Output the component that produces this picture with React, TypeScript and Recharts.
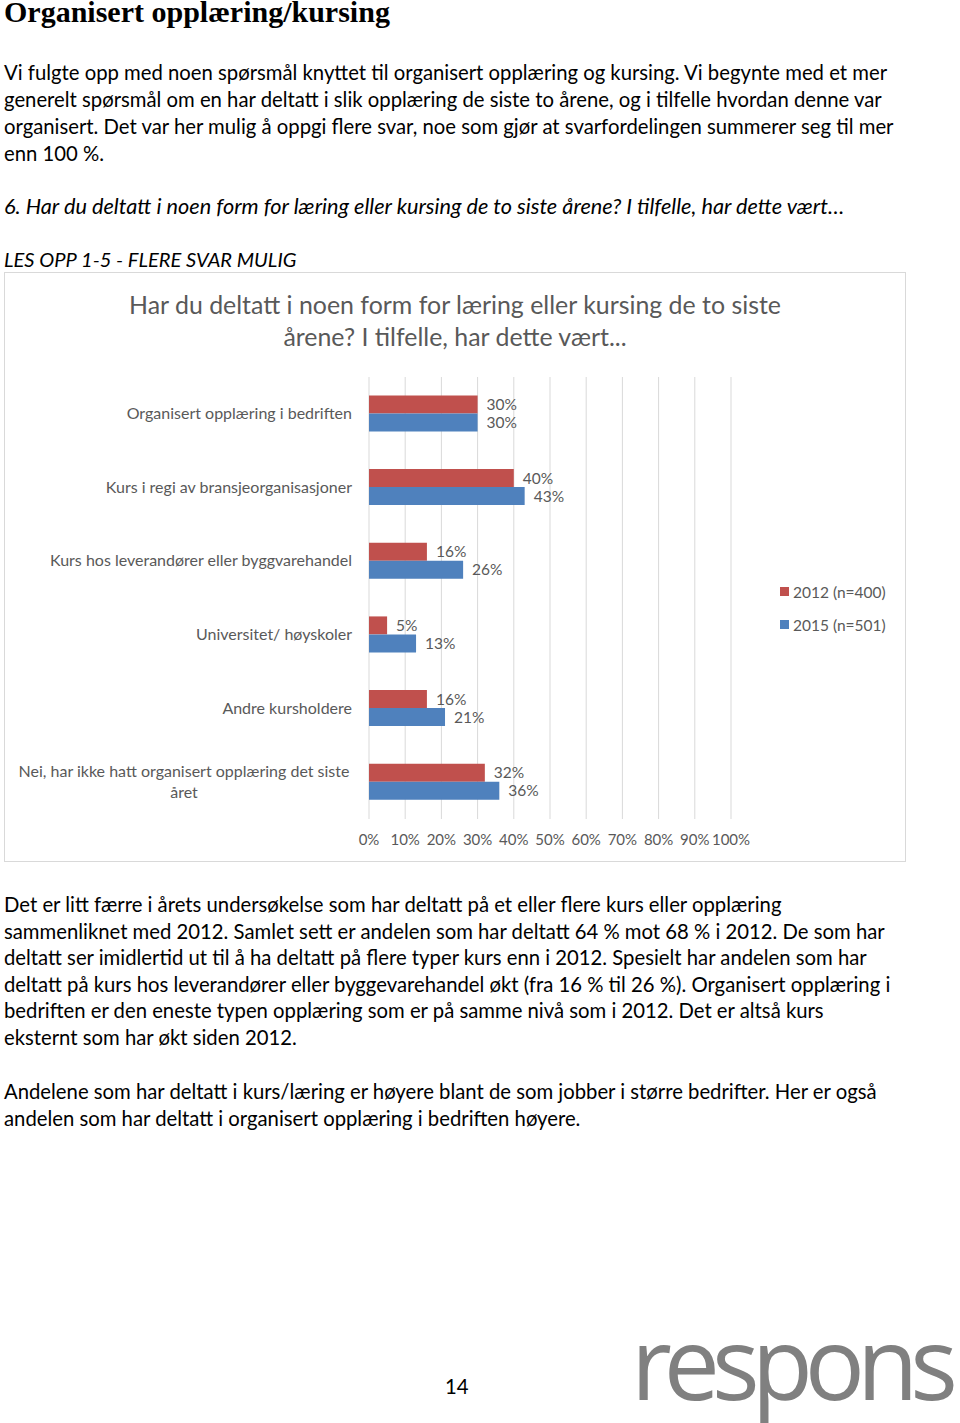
import { Bar, BarChart, CartesianGrid, LabelList, XAxis, YAxis } from "recharts";

const categories = [
  "Organisert opplæring i bedriften",
  "Kurs i regi av bransjeorganisasjoner",
  "Kurs hos leverandører eller byggvarehandel",
  "Universitet/ høyskoler",
  "Andre kursholdere",
  "Nei, har ikke hatt organisert opplæring det siste|året"
];
const values2012 = [30, 40, 16, 5, 16, 32];
const values2015 = [30, 43, 26, 13, 21, 36];
const xTicks = [0, 10, 20, 30, 40, 50, 60, 70, 80, 90, 100];
const seriesNames = ["2012 (n=400)", "2015 (n=501)"];
const seriesColors = ["#c0504d", "#4f81bd"];

const introLines = [
  "Vi fulgte opp med noen spørsmål knyttet til organisert opplæring og kursing. Vi begynte med et mer",
  "generelt spørsmål om en har deltatt i slik opplæring de siste to årene, og i tilfelle hvordan denne var",
  "organisert. Det var her mulig å oppgi flere svar, noe som gjør at svarfordelingen summerer seg til mer",
  "enn 100 %."
];
const outroLines = [
  "Det er litt færre i årets undersøkelse som har deltatt på et eller flere kurs eller opplæring",
  "sammenliknet med 2012. Samlet sett er andelen som har deltatt 64 % mot 68 % i 2012. De som har",
  "deltatt ser imidlertid ut til å ha deltatt på flere typer kurs enn i 2012. Spesielt har andelen som har",
  "deltatt på kurs hos leverandører eller byggevarehandel økt (fra 16 % til 26 %). Organisert opplæring i",
  "bedriften er den eneste typen opplæring som er på samme nivå som i 2012. Det er altså kurs",
  "eksternt som har økt siden 2012."
];
const outroLines2 = [
  "Andelene som har deltatt i kurs/læring er høyere blant de som jobber i større bedrifter. Her er også",
  "andelen som har deltatt i organisert opplæring i bedriften høyere."
];

const data = categories.map((name, i) => ({
  name,
  y2012: values2012[i],
  y2015: values2015[i]
}));

const bodyFont = "Lato, 'Open Sans', sans-serif";
const gray = "#595959";

function Line({ y, text, style }: { y: number; text: string; style?: React.CSSProperties }) {
  return (
    <div
      style={{
        position: "absolute",
        left: 4,
        top: y - 13,
        height: 26,
        lineHeight: "26px",
        whiteSpace: "nowrap",
        fontFamily: bodyFont,
        fontSize: 20.3,
        color: "#000",
        ...style
      }}
    >
      {text}
    </div>
  );
}

function CategoryTick(props: any) {
  const { x, y, payload } = props;
  const lines = String(payload.value).split("|");
  if (lines.length === 1) {
    return (
      <text x={x} y={y} dy={5} textAnchor="end" fill={gray} fontSize={16} fontFamily={bodyFont}>
        {lines[0]}
      </text>
    );
  }
  return (
    <text x={x - 168} y={y - 10} textAnchor="middle" fill={gray} fontSize={16} fontFamily={bodyFont}>
      {lines.map((l, i) => (
        <tspan key={i} x={x - 168} dy={i === 0 ? 5 : 21}>
          {l}
        </tspan>
      ))}
    </text>
  );
}

export default function App() {
  return (
    <div style={{ position: "relative", width: 960, height: 1423, background: "#fff", overflow: "hidden" }}>
      <style>{`body{margin:0}`}</style>
      <div
        style={{
          position: "absolute",
          left: 4,
          top: 0,
          fontFamily: "'Liberation Serif', serif",
          fontWeight: 700,
          fontSize: 30,
          lineHeight: "24px",
          whiteSpace: "nowrap"
        }}
      >
        Organisert opplæring/kursing
      </div>
      {introLines.map((t, i) => (
        <Line key={i} y={72 + i * 27} text={t} />
      ))}
      <Line
        y={206}
        text="6. Har du deltatt i noen form for læring eller kursing de to siste årene? I tilfelle, har dette vært…"
        style={{ fontStyle: "italic", fontSize: 21.7 }}
      />
      <Line y={259} text="LES OPP 1-5 - FLERE SVAR MULIG" style={{ fontStyle: "italic", fontSize: 20.1 }} />

      <div
        style={{
          position: "absolute",
          left: 4,
          top: 272,
          width: 900,
          height: 588,
          border: "1px solid #d9d9d9"
        }}
      >
        <div
          style={{
            position: "absolute",
            left: 0,
            width: 900,
            top: 15,
            textAlign: "center",
            fontFamily: bodyFont,
            fontSize: 24.9,
            lineHeight: "32px",
            color: gray
          }}
        >
          <div>Har du deltatt i noen form for læring eller kursing de to siste</div>
          <div>årene? I tilfelle, har dette vært...</div>
        </div>
        <div style={{ position: "absolute", left: 775, top: 302, fontFamily: bodyFont, fontSize: 15.5, color: gray }}>
          {seriesNames.map((n, i) => (
            <div key={n} style={{ display: "flex", alignItems: "center", height: 33 }}>
              <span style={{ width: 9, height: 9, background: seriesColors[i], marginRight: 4 }} />
              {n}
            </div>
          ))}
        </div>
        <BarChart
          width={900}
          height={588}
          data={data}
          layout="vertical"
          margin={{ top: 104, right: 174, bottom: 12, left: 0 }}
          barGap={0}
          barCategoryGap="25%"
        >
          <CartesianGrid horizontal={false} stroke="#d9d9d9" />
          <XAxis
            type="number"
            domain={[0, 100]}
            ticks={xTicks}
            tickFormatter={(v) => `${v}%`}
            axisLine={false}
            tickLine={false}
            interval={0}
            height={30}
            tick={{ fill: gray, fontSize: 15, fontFamily: bodyFont }}
            tickMargin={9}
          />
          <YAxis
            type="category"
            dataKey="name"
            width={364}
            axisLine={false}
            tickLine={false}
            tick={<CategoryTick />}
            tickMargin={11}
          />
          <Bar dataKey="y2012" fill={seriesColors[0]} isAnimationActive={false}>
            <LabelList
              dataKey="y2012"
              position="right"
              offset={9}
              formatter={(v: any) => `${v}%`}
              style={{ fill: gray, fontSize: 15.5, fontFamily: bodyFont }}
            />
          </Bar>
          <Bar dataKey="y2015" fill={seriesColors[1]} isAnimationActive={false}>
            <LabelList
              dataKey="y2015"
              position="right"
              offset={9}
              formatter={(v: any) => `${v}%`}
              style={{ fill: gray, fontSize: 15.5, fontFamily: bodyFont }}
            />
          </Bar>
        </BarChart>
      </div>

      {outroLines.map((t, i) => (
        <Line key={i} y={904 + i * 26.6} text={t} />
      ))}
      {outroLines2.map((t, i) => (
        <Line key={i} y={1091 + i * 26.6} text={t} />
      ))}
      <Line y={1386} text="14" style={{ left: 445 }} />
      <div
        style={{
          position: "absolute",
          left: 631,
          top: 1311,
          fontFamily: "'Open Sans', sans-serif",
          fontSize: 100,
          lineHeight: "100px",
          color: "#808080",
          letterSpacing: -8,
          whiteSpace: "nowrap"
        }}
      >
        respons
      </div>
    </div>
  );
}
